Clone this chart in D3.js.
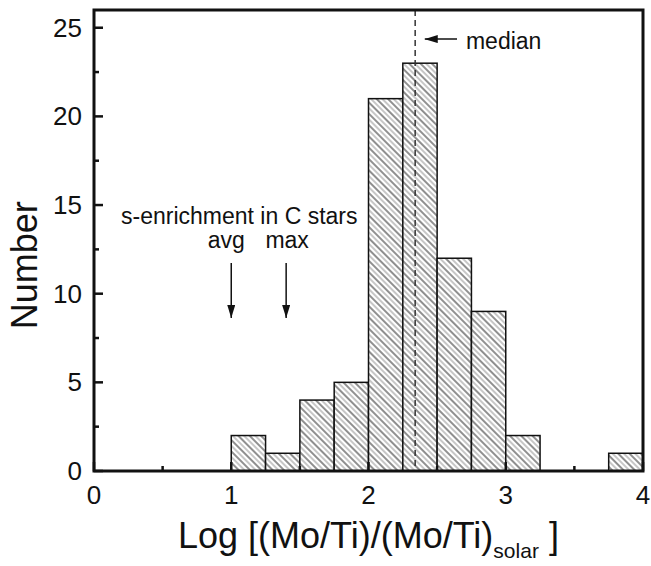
<!DOCTYPE html>
<html>
<head>
<meta charset="utf-8">
<script src="https://cdn.jsdelivr.net/npm/d3@7"></script>
<style>
  body { margin: 0; background: #fff; }
  svg text { font-family: "Liberation Sans", Arial, sans-serif; fill: #111; }
</style>
</head>
<body>
<div id="chart"></div>
<script>
// histogram bins (left edge) and counts
const binStarts = [1.0, 1.25, 1.5, 1.75, 2.0, 2.25, 2.5, 2.75, 3.0, 3.75];
const counts    = [2,   1,    4,   5,    21,  23,   12,  9,    2,   1];
const binWidth = 0.25;
const median = 2.34;

const xTicks = [0, 1, 2, 3, 4];
const xMinor = [0.5, 1.5, 2.5, 3.5];
const yTicks = [0, 5, 10, 15, 20, 25];
const yMinor = [2.5, 7.5, 12.5, 17.5, 22.5];

// s-enrichment markers (avg, max)
const sLabels = ["avg", "max"];
const sValues = [1.0, 1.4];

const W = 651, H = 566;
const margin = {top: 10, right: 8, bottom: 95, left: 94};
const width = W - margin.left - margin.right;
const height = H - margin.top - margin.bottom;

const svg = d3.select("#chart").append("svg")
    .attr("width", W)
    .attr("height", H);

const defs = svg.append("defs");
const pat = defs.append("pattern")
    .attr("id", "hatch")
    .attr("patternUnits", "userSpaceOnUse")
    .attr("width", 8)
    .attr("height", 8)
    .attr("patternTransform", "rotate(-45)");
pat.append("rect").attr("width", 8).attr("height", 8).attr("fill", "#fff");
pat.append("line").attr("x1", 1).attr("x2", 1).attr("y1", 0).attr("y2", 8)
    .attr("stroke", "#333").attr("stroke-width", 1.1);
pat.append("line").attr("x1", 5).attr("x2", 5).attr("y1", 0).attr("y2", 8)
    .attr("stroke", "#999").attr("stroke-width", 1.1);

// arrow head
const arrow = defs.append("marker")
    .attr("id", "arrow")
    .attr("viewBox", "0 0 13 8")
    .attr("refX", 13).attr("refY", 4)
    .attr("markerWidth", 13).attr("markerHeight", 8)
    .attr("markerUnits", "userSpaceOnUse")
    .attr("orient", "auto");
arrow.append("path").attr("d", "M0,0 L13,4 L0,8 Z").attr("fill", "#111");

const g = svg.append("g").attr("transform", `translate(${margin.left},${margin.top})`);

const x = d3.scaleLinear().domain([0, 4]).range([0, width]);
const y = d3.scaleLinear().domain([0, 26]).range([height, 0]);

// bars
g.selectAll("rect.bar")
    .data(binStarts)
    .join("rect")
    .attr("class", "bar")
    .attr("x", d => x(d))
    .attr("width", x(binWidth) - x(0))
    .attr("y", (d, i) => y(counts[i]))
    .attr("height", (d, i) => y(0) - y(counts[i]))
    .attr("fill", "url(#hatch)")
    .attr("stroke", "#111")
    .attr("stroke-width", 1.5);

// ticks (inside)
g.selectAll("line.xt").data(xTicks).join("line")
    .attr("x1", d => x(d)).attr("x2", d => x(d))
    .attr("y1", height).attr("y2", height - 9)
    .attr("stroke", "#111").attr("stroke-width", 2.5);
g.selectAll("line.xm").data(xMinor).join("line")
    .attr("x1", d => x(d)).attr("x2", d => x(d))
    .attr("y1", height).attr("y2", height - 5)
    .attr("stroke", "#111").attr("stroke-width", 2.5);
g.selectAll("line.yt").data(yTicks).join("line")
    .attr("x1", 0).attr("x2", 9)
    .attr("y1", d => y(d)).attr("y2", d => y(d))
    .attr("stroke", "#111").attr("stroke-width", 2.5);
g.selectAll("line.ym").data(yMinor).join("line")
    .attr("x1", 0).attr("x2", 5)
    .attr("y1", d => y(d)).attr("y2", d => y(d))
    .attr("stroke", "#111").attr("stroke-width", 2.5);

// tick labels
g.selectAll("text.xl").data(xTicks).join("text")
    .attr("x", d => x(d)).attr("y", height + 33)
    .attr("text-anchor", "middle")
    .attr("font-size", 26)
    .text(d => d);
g.selectAll("text.yl").data(yTicks).join("text")
    .attr("x", -12).attr("y", d => y(d) + 9)
    .attr("text-anchor", "end")
    .attr("font-size", 26)
    .text(d => d);

// median line
g.append("line")
    .attr("x1", x(median)).attr("x2", x(median))
    .attr("y1", 0).attr("y2", height)
    .attr("stroke", "#333").attr("stroke-width", 1.5)
    .attr("stroke-dasharray", "6,4");
g.append("line")
    .attr("x1", x(2.645)).attr("x2", x(2.41))
    .attr("y1", y(24.36)).attr("y2", y(24.36))
    .attr("stroke", "#111").attr("stroke-width", 1.5)
    .attr("marker-end", "url(#arrow)");
g.append("text")
    .attr("x", x(2.71)).attr("y", y(23.8))
    .attr("font-size", 23)
    .text("median");

// s-enrichment annotation
g.append("text")
    .attr("x", x(0.197)).attr("y", y(13.93))
    .attr("font-size", 23)
    .text("s-enrichment in C stars");
g.selectAll("text.sl").data(sLabels).join("text")
    .attr("x", (d, i) => x(sValues[i]) - 5 + i * 6)
    .attr("y", y(12.58))
    .attr("text-anchor", "middle")
    .attr("font-size", 23)
    .text(d => d);
g.selectAll("line.sa").data(sValues).join("line")
    .attr("x1", d => x(d)).attr("x2", d => x(d))
    .attr("y1", y(11.73)).attr("y2", y(8.63))
    .attr("stroke", "#111").attr("stroke-width", 1.5)
    .attr("marker-end", "url(#arrow)");

// frame
g.append("rect")
    .attr("x", 0).attr("y", 0)
    .attr("width", width).attr("height", height)
    .attr("fill", "none")
    .attr("stroke", "#111")
    .attr("stroke-width", 3);

// axis titles
const xt = svg.append("text")
    .attr("x", 178).attr("y", 548)
    .attr("font-size", 36);
xt.append("tspan").text("Log [(Mo/Ti)/(Mo/Ti)");
xt.append("tspan").attr("font-size", 21).attr("dy", 10).text("solar");
xt.append("tspan").attr("dy", -10).text(" ]");

svg.append("text")
    .attr("transform", `translate(37,${margin.top + y(11.6)}) rotate(-90)`)
    .attr("text-anchor", "middle")
    .attr("font-size", 36)
    .text("Number");
</script>
</body>
</html>
